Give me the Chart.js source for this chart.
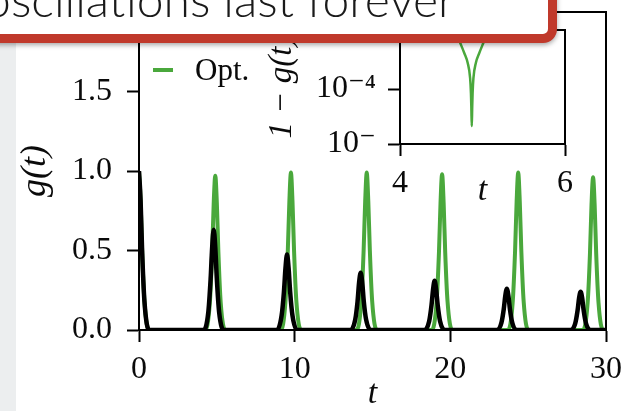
<!DOCTYPE html>
<html>
<head>
<meta charset="utf-8">
<script src="https://cdn.jsdelivr.net/npm/chart.js@4.4.0/dist/chart.umd.min.js"></script>
<style>
  html, body { margin: 0; padding: 0; background: #fff; }
  #wrap { position: relative; width: 621px; height: 411px; overflow: hidden; background: #fff; }
  #strip { position: absolute; left: 0; top: 0; width: 16px; height: 411px; background: #eceeef; }
  #main { position: absolute; left: 0; top: 0; }
  #inset { position: absolute; left: 250px; top: 0; }
  #callout {
    position: absolute; left: -30px; top: -40px; width: 569px; height: 65px;
    border: 9px solid #c0392b; border-radius: 14px; background: #fff;
    box-shadow: 0 2px 5px rgba(0,0,0,0.35);
  }
  #callout-text {
    position: absolute; right: 166px; top: -25px; white-space: nowrap;
    font: 300 48px/48px Lato, "Open Sans", sans-serif; color: #1a1a1a;
  }
</style>
</head>
<body>
<div id="wrap">
  <div id="strip"></div>
  <canvas id="main" width="621" height="411"></canvas>
  <canvas id="inset" width="340" height="215"></canvas>
  <div id="callout"></div>
  <div id="callout-text">oscillations last forever</div>
</div>
<script>
// main panel: g(t) for the reference run (black) and the optimised run (green)
const refT = [0, 0.1, 0.2, 0.35, 0.65,
  4.15, 4.45, 4.60, 4.70, 4.80, 4.90, 5.00, 5.15, 5.45,
  8.86, 9.16, 9.31, 9.41, 9.51, 9.61, 9.71, 9.86, 10.16,
  13.59, 13.89, 14.04, 14.14, 14.24, 14.34, 14.44, 14.59, 14.89,
  18.34, 18.64, 18.79, 18.89, 18.99, 19.09, 19.19, 19.34, 19.64,
  22.98, 23.28, 23.43, 23.53, 23.63, 23.73, 23.83, 23.98, 24.28,
  27.72, 28.02, 28.17, 28.27, 28.37, 28.47, 28.57, 28.72, 29.02,
  30];
const refG = [1.0, 0.82, 0.5, 0.18, 0,
  0, 0.11, 0.32, 0.52, 0.63, 0.52, 0.32, 0.11, 0,
  0, 0.09, 0.24, 0.39, 0.475, 0.39, 0.24, 0.09, 0,
  0, 0.065, 0.18, 0.30, 0.36, 0.30, 0.18, 0.065, 0,
  0, 0.055, 0.155, 0.255, 0.31, 0.255, 0.155, 0.055, 0,
  0, 0.045, 0.13, 0.215, 0.26, 0.215, 0.13, 0.045, 0,
  0, 0.04, 0.12, 0.20, 0.24, 0.20, 0.12, 0.04, 0,
  0];

const optT = [0, 0.1, 0.2, 0.35, 0.65,
  4.25, 4.55, 4.70, 4.80, 4.90, 5.00, 5.10, 5.25, 5.55,
  9.11, 9.41, 9.56, 9.66, 9.76, 9.86, 9.96, 10.11, 10.41,
  13.98, 14.28, 14.43, 14.53, 14.63, 14.73, 14.83, 14.98, 15.28,
  18.82, 19.12, 19.27, 19.37, 19.47, 19.57, 19.67, 19.82, 20.12,
  23.71, 24.01, 24.16, 24.26, 24.36, 24.46, 24.56, 24.71, 25.01,
  28.52, 28.82, 28.97, 29.07, 29.17, 29.27, 29.37, 29.52, 29.82,
  30];
const optG = [1.0, 0.82, 0.5, 0.18, 0,
  0, 0.17, 0.49, 0.80, 0.97, 0.80, 0.49, 0.17, 0,
  0, 0.18, 0.50, 0.81, 0.99, 0.81, 0.50, 0.18, 0,
  0, 0.18, 0.50, 0.81, 0.99, 0.81, 0.50, 0.18, 0,
  0, 0.18, 0.49, 0.80, 0.98, 0.80, 0.49, 0.18, 0,
  0, 0.18, 0.50, 0.81, 0.99, 0.81, 0.50, 0.18, 0,
  0, 0.17, 0.48, 0.79, 0.96, 0.79, 0.48, 0.17, 0,
  0];

const mainXTicks = [0, 10, 20, 30];
const mainYTicks = [0, 0.5, 1.0, 1.5, 2.0];

// inset: 1 - g(t) around the first optimised revival, log scale
const insetT = [4.66, 4.73, 4.78, 4.82, 4.85, 4.86, 4.865, 4.87, 4.875, 4.88, 4.89, 4.92, 4.96, 5.01, 5.08];
const insetV = [1.5e-2, 4.7e-3, 2.0e-3, 9e-4, 2.5e-4, 7e-5, 2e-5, 4.5e-6, 2e-5, 7e-5, 2.5e-4, 9e-4, 2.0e-3, 4.7e-3, 1.5e-2];
const insetXTicks = [4, 6];
const insetYTicks = [1e-6, 1e-4, 1e-2];
const insetYLabels = ['10\u207B', '10\u207B\u2074', '10\u207B\u00B2'];

const GREEN = '#4aa83c';
const INK = '#0a0a0a';
const SERIF = '"Liberation Serif", "DejaVu Serif", serif';

function pts(xs, ys) {
  return xs.map((x, i) => ({ x: x, y: ys[i] }));
}

// closes the axes box (top and right sides)
const frame = {
  id: 'frame',
  afterDraw(chart) {
    const a = chart.chartArea, ctx = chart.ctx;
    ctx.save();
    ctx.strokeStyle = '#000';
    ctx.lineWidth = 2;
    ctx.strokeRect(a.left, a.top, a.right - a.left, a.bottom - a.top);
    ctx.restore();
  }
};

const optLegend = {
  id: 'optLegend',
  afterDatasetsDraw(chart) {
    const a = chart.chartArea, ctx = chart.ctx;
    const y = a.top + 58;
    ctx.save();
    ctx.strokeStyle = GREEN;
    ctx.lineWidth = 4;
    ctx.beginPath();
    ctx.moveTo(a.left + 14, y);
    ctx.lineTo(a.left + 34, y);
    ctx.stroke();
    ctx.fillStyle = INK;
    ctx.font = '31px ' + SERIF;
    ctx.textBaseline = 'middle';
    ctx.fillText('Opt.', a.left + 56, y + 2);
    ctx.restore();
  }
};

const whiteArea = {
  id: 'whiteArea',
  beforeDraw(chart) {
    const a = chart.chartArea, ctx = chart.ctx;
    ctx.save();
    ctx.fillStyle = '#fff';
    ctx.fillRect(a.left, a.top, a.right - a.left, a.bottom - a.top);
    ctx.restore();
  }
};

function axisStyle() {
  return {
    grid: { drawOnChartArea: false, drawTicks: true, tickLength: 12, tickWidth: 2, tickColor: '#000' },
    border: { display: true, color: '#000', width: 2 }
  };
}

// fixed axis boxes, no extra room for overhanging end labels
function fixX(h) {
  return s => { s.height = h; s.paddingLeft = 0; s.paddingRight = 0; };
}
function fixY(w) {
  return s => { s.width = w; s.paddingTop = 0; s.paddingBottom = 0; };
}

new Chart(document.getElementById('main'), {
  type: 'line',
  data: {
    datasets: [
      { label: 'Ref.', data: pts(refT, refG), borderColor: '#000', borderWidth: 4.5,
        pointRadius: 0, cubicInterpolationMode: 'monotone', fill: false },
      { label: 'Opt.', data: pts(optT, optG), borderColor: GREEN, borderWidth: 4,
        pointRadius: 0, cubicInterpolationMode: 'monotone', fill: false }
    ]
  },
  options: {
    responsive: false,
    animation: false,
    events: [],
    layout: { padding: { top: 12, right: 15, left: 0, bottom: 0 } },
    plugins: { legend: { display: false }, tooltip: { enabled: false } },
    scales: {
      x: Object.assign(axisStyle(), {
        type: 'linear', min: 0, max: 30,
        afterBuildTicks: s => { s.ticks = mainXTicks.map(v => ({ value: v })); },
        afterFit: fixX(81),
        ticks: { color: INK, padding: 8, maxRotation: 0, font: { family: SERIF, size: 32 },
          callback: v => String(v) },
        title: { display: true, text: 't', color: INK, padding: { top: 0, bottom: 0 },
          font: { family: SERIF, size: 34, style: 'italic', lineHeight: 1 } }
      }),
      y: Object.assign(axisStyle(), {
        type: 'linear', min: 0, max: 2.0,
        afterBuildTicks: s => { s.ticks = mainYTicks.map(v => ({ value: v })); },
        afterFit: fixY(139),
        ticks: { color: INK, padding: 15, font: { family: SERIF, size: 32 },
          callback: v => v.toFixed(1) },
        title: { display: true, text: 'g(t)', color: INK, padding: { top: 16, bottom: 0 },
          font: { family: SERIF, size: 36, style: 'italic', lineHeight: 1.1 } }
      })
    }
  },
  plugins: [frame, optLegend]
});

new Chart(document.getElementById('inset'), {
  type: 'line',
  data: {
    datasets: [
      { label: 'Opt.', data: pts(insetT, insetV), borderColor: GREEN, borderWidth: 2.5,
        pointRadius: 0, cubicInterpolationMode: 'monotone', fill: false }
    ]
  },
  options: {
    responsive: false,
    animation: false,
    events: [],
    layout: { padding: { top: 30, right: 25, left: 0, bottom: 0 } },
    plugins: { legend: { display: false }, tooltip: { enabled: false } },
    scales: {
      x: Object.assign(axisStyle(), {
        type: 'linear', min: 4, max: 6,
        afterBuildTicks: s => { s.ticks = insetXTicks.map(v => ({ value: v })); },
        afterFit: fixX(71),
        ticks: { color: INK, padding: 8, maxRotation: 0, font: { family: SERIF, size: 32 },
          callback: v => String(v) },
        title: { display: true, text: 't', color: INK, padding: { top: 0, bottom: 4 },
          font: { family: SERIF, size: 34, style: 'italic', lineHeight: 1.2 } }
      }),
      y: Object.assign(axisStyle(), {
        type: 'logarithmic', min: 1e-6, max: 1.4e-2,
        afterBuildTicks: s => { s.ticks = insetYTicks.map(v => ({ value: v })); },
        afterFit: fixY(150),
        ticks: { color: INK, padding: 12, font: { family: SERIF, size: 32 },
          callback: (v, i) => insetYLabels[i] },
        title: { display: true, text: '1 \u2212 g(t)', color: INK, padding: { top: 14, bottom: 0 },
          font: { family: SERIF, size: 33, style: 'italic', lineHeight: 1.1 } }
      })
    }
  },
  plugins: [whiteArea, frame]
});
</script>
</body>
</html>
